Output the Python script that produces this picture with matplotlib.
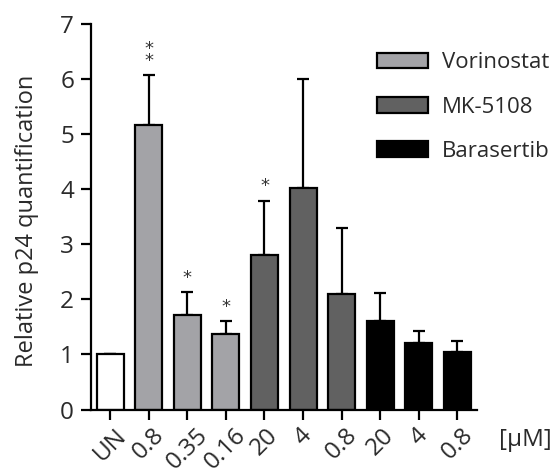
import numpy as np
import matplotlib.pyplot as plt
from matplotlib.patches import Patch

plt.rcParams['font.family'] = ['Open Sans', 'DejaVu Sans']

# data
labels = ["UN", "0.8", "0.35", "0.16", "20", "4", "0.8", "20", "4", "0.8"]
groups = ["UN", "Vorinostat", "Vorinostat", "Vorinostat",
          "MK-5108", "MK-5108", "MK-5108",
          "Barasertib", "Barasertib", "Barasertib"]
means = [1.0, 5.16, 1.71, 1.38, 2.81, 4.02, 2.09, 1.61, 1.20, 1.04]
errs = [0.0, 0.91, 0.42, 0.22, 0.98, 1.99, 1.21, 0.50, 0.23, 0.21]
stars = ["", "*\n*", "*", "*", "*", "", "", "", "", ""]

colors = {"UN": "white", "Vorinostat": "#a3a3a7",
          "MK-5108": "#616161", "Barasertib": "black"}

fig = plt.figure(figsize=(5.57, 4.72), dpi=100)
ax = fig.add_axes([0.163, 0.1324, 0.693, 0.8167])

x = np.arange(len(labels))
lw = 1.6
ax.bar(x, means, width=0.7, color=[colors[g] for g in groups],
       edgecolor="black", linewidth=lw, zorder=2,
       yerr=[np.zeros(len(errs)), errs],
       error_kw=dict(ecolor="black", elinewidth=lw, capsize=4.5,
                     capthick=lw, zorder=1))

for xi, m, e, s in zip(x, means, errs, stars):
    if s:
        ax.text(xi, m + e + 0.1, s, ha="center", va="bottom",
                fontsize=13, linespacing=0.55, color="#333333",
                family="DejaVu Sans")

ax.set_xlim(-0.5, 9.5)
ax.set_ylim(0, 7)
ax.set_yticks(range(8))
ax.set_xticks(x)
ax.set_xticklabels(labels, rotation=45, ha="center", va="top")
ax.tick_params(axis="both", direction="out", length=7, width=lw,
               labelsize=17.5, colors="black", labelcolor="#2a2a2a")
ax.tick_params(axis="x", pad=3)
ax.tick_params(axis="y", pad=5)
for s in ["top", "right"]:
    ax.spines[s].set_visible(False)
for s in ["left", "bottom"]:
    ax.spines[s].set_linewidth(lw)
ax.set_ylabel("Relative p24 quantification", fontsize=17, color="#2a2a2a")
ax.yaxis.set_label_coords(-0.135, 0.49)

fig.text(0.895, 0.068, "[\u00b5M]", fontsize=17.5, color="#2a2a2a",
         ha="left", va="center")

handles = [Patch(facecolor=colors[g], edgecolor="black", linewidth=lw)
           for g in ["Vorinostat", "MK-5108", "Barasertib"]]
ax.legend(handles, ["Vorinostat", "MK-5108", "Barasertib"],
          loc="upper left", bbox_to_anchor=(0.661, 0.908),
          bbox_transform=fig.transFigure, frameon=False, fontsize=16,
          handlelength=2.3, handleheight=0.7, handletextpad=0.6,
          labelspacing=1.05, borderaxespad=0, labelcolor="#2a2a2a")

fig.savefig("out.png", dpi=100)
